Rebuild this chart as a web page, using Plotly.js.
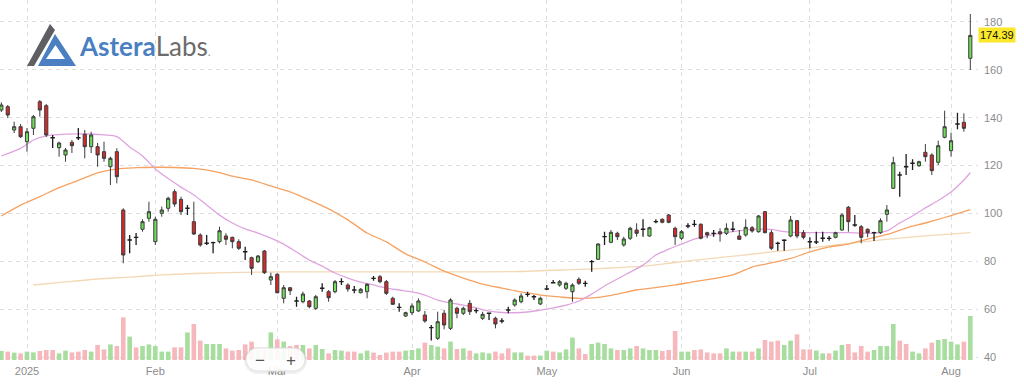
<!DOCTYPE html>
<html><head><meta charset="utf-8">
<script src="https://cdn.plot.ly/plotly-3.0.1.min.js"></script>
<style>html,body{margin:0;padding:0;background:#fff;}#chart{width:1024px;height:391px;}</style>
</head><body><div id="chart"></div>
<script>
const dates = [
"2024-12-26","2024-12-27","2024-12-30","2024-12-31",
"2025-01-02","2025-01-03","2025-01-06","2025-01-07","2025-01-08","2025-01-10","2025-01-13","2025-01-14","2025-01-15","2025-01-16","2025-01-17","2025-01-21","2025-01-22","2025-01-23","2025-01-24","2025-01-27","2025-01-28","2025-01-29","2025-01-30","2025-01-31",
"2025-02-03","2025-02-04","2025-02-05","2025-02-06","2025-02-07","2025-02-10","2025-02-11","2025-02-12","2025-02-13","2025-02-14","2025-02-18","2025-02-19","2025-02-20","2025-02-21","2025-02-24","2025-02-25","2025-02-26","2025-02-27","2025-02-28",
"2025-03-03","2025-03-04","2025-03-05","2025-03-06","2025-03-07","2025-03-10","2025-03-11","2025-03-12","2025-03-13","2025-03-14","2025-03-17","2025-03-18","2025-03-19","2025-03-20","2025-03-21","2025-03-24","2025-03-25","2025-03-26","2025-03-27","2025-03-28","2025-03-31",
"2025-04-01","2025-04-02","2025-04-03","2025-04-04","2025-04-07","2025-04-08","2025-04-09","2025-04-10","2025-04-11","2025-04-14","2025-04-15","2025-04-16","2025-04-17","2025-04-21","2025-04-22","2025-04-23","2025-04-24","2025-04-25","2025-04-28","2025-04-29","2025-04-30",
"2025-05-01","2025-05-02","2025-05-05","2025-05-06","2025-05-07","2025-05-08","2025-05-09","2025-05-12","2025-05-13","2025-05-14","2025-05-15","2025-05-16","2025-05-19","2025-05-20","2025-05-21","2025-05-22","2025-05-23","2025-05-27","2025-05-28","2025-05-29","2025-05-30",
"2025-06-02","2025-06-03","2025-06-04","2025-06-05","2025-06-06","2025-06-09","2025-06-10","2025-06-11","2025-06-12","2025-06-13","2025-06-16","2025-06-17","2025-06-18","2025-06-20","2025-06-23","2025-06-24","2025-06-25","2025-06-26","2025-06-27","2025-06-30",
"2025-07-01","2025-07-02","2025-07-03","2025-07-07","2025-07-08","2025-07-09","2025-07-10","2025-07-11","2025-07-14","2025-07-15","2025-07-16","2025-07-17","2025-07-18","2025-07-21","2025-07-22","2025-07-23","2025-07-24","2025-07-25","2025-07-28","2025-07-29","2025-07-30","2025-07-31",
"2025-08-01","2025-08-04","2025-08-05","2025-08-06"];

const open = [143.22,144.60,134.86,136.24,129.97,135.57,146.69,145.02,131.65,127.47,124.42,129.72,131.65,133.07,127.89,127.89,125.80,119.53,125.80,101.43,
88.90,90.02,93.37,97.96,88.19,100.05,102.14,109.08,105.90,102.14,96.55,90.99,87.52,87.77,88.19,90.57,90.02,88.19,84.01,81.50,
79.83,84.30,72.18,74.56,64.53,68.96,63.41,63.11,63.41,60.35,68.71,67.29,67.29,71.47,70.09,68.00,66.87,67.29,72.89,73.56,
71.47,64.53,60.77,57.13,58.52,59.23,57.55,52.24,47.82,58.27,51.99,60.35,58.27,62.44,59.35,56.17,58.27,56.17,55.05,59.65,
61.73,63.11,66.20,65.20,62.15,68.42,71.05,70.09,68.71,67.29,72.47,70.80,79.83,80.83,90.28,87.94,91.69,86.81,89.61,93.07,
93.37,90.57,96.55,97.55,99.34,93.78,89.61,94.75,95.46,95.46,91.95,91.69,92.36,91.69,93.37,90.57,90.99,94.03,92.36,100.72,
91.95,87.52,88.77,90.57,96.96,91.95,88.19,88.06,89.61,89.61,90.02,93.07,102.56,95.17,94.45,93.37,91.95,91.95,99.63,110.50,
116.06,119.53,120.95,119.95,125.55,124.42,121.37,131.81,126.21,137.37,138.08,164.83];
const high = [146.44,145.31,138.33,137.37,135.70,141.13,147.40,145.73,132.77,129.97,127.34,130.69,135.70,134.86,134.15,129.43,129.97,123.71,127.22,102.14,
90.99,91.82,97.55,104.90,98.63,102.81,106.99,110.08,106.99,103.52,104.90,91.69,90.99,88.19,94.45,91.69,90.28,89.19,86.10,81.92,
82.63,84.72,75.23,74.98,70.09,69.10,65.20,67.29,63.83,65.91,70.80,68.00,72.18,72.89,70.80,69.67,68.84,70.80,73.85,74.27,
72.18,65.20,62.44,58.93,62.44,64.53,59.23,53.37,58.93,59.65,64.53,61.02,61.02,63.83,60.35,58.93,58.52,56.84,56.17,61.02,
64.53,66.62,67.29,65.91,65.20,70.09,72.18,72.18,71.47,70.80,73.31,71.89,80.54,87.52,92.36,93.07,92.36,90.28,94.45,95.88,
97.55,94.45,97.55,97.96,99.76,94.45,93.07,95.88,97.25,95.88,92.36,93.07,93.78,95.88,96.55,93.07,97.55,94.75,99.34,101.01,
93.07,88.19,89.19,98.93,97.25,93.07,90.02,92.36,92.36,90.57,92.36,100.05,103.11,99.34,95.17,93.78,92.36,97.96,103.52,123.71,
117.44,124.84,122.62,122.04,129.01,125.13,130.39,142.93,133.74,142.10,141.84,183.34];
const low = [142.39,139.88,133.61,131.52,125.80,132.77,140.42,131.94,127.34,123.71,121.62,125.25,130.69,123.04,125.25,119.53,121.62,111.88,112.59,79.16,
83.34,86.81,92.36,96.55,86.81,98.63,100.72,102.81,99.34,99.34,90.99,86.10,86.81,83.34,87.52,86.81,85.43,84.72,80.54,74.27,
79.28,74.69,70.09,66.62,62.44,65.91,61.02,62.44,60.35,59.65,67.29,63.11,66.62,70.09,67.29,66.62,66.62,64.53,71.89,70.80,
65.91,61.73,58.93,56.72,57.55,58.93,54.33,46.90,47.11,51.57,51.29,56.17,57.55,57.55,58.27,55.46,55.46,51.99,54.08,58.27,
61.02,62.44,65.20,63.83,61.73,68.00,70.80,69.38,68.00,63.11,70.09,69.38,75.65,80.54,86.81,87.52,88.90,86.10,88.90,90.28,
90.28,90.28,95.88,95.88,95.88,86.81,88.90,93.78,94.45,89.19,89.61,90.28,88.19,90.99,92.36,88.90,90.28,91.95,91.95,91.69,
84.72,84.43,84.43,90.02,89.61,89.19,85.43,87.23,88.19,88.60,89.61,92.78,92.36,94.45,87.52,90.02,88.48,91.41,96.55,110.20,
106.99,116.06,118.15,119.40,121.62,116.06,120.24,131.40,123.71,135.16,134.15,159.94];
const close = [145.31,141.13,136.24,132.06,134.15,140.42,143.22,132.77,131.60,129.43,126.51,128.30,131.60,127.89,132.77,124.42,123.04,123.04,115.35,82.63,
88.95,89.97,96.55,100.72,97.55,101.43,106.32,103.94,100.72,102.19,91.41,86.81,87.57,87.82,92.78,89.19,88.19,85.43,83.96,77.07,
82.21,75.23,73.56,66.87,68.96,67.71,63.36,66.33,61.02,65.20,68.76,64.78,71.47,71.52,68.42,67.95,68.29,70.38,72.84,71.47,
66.62,62.02,60.72,58.52,61.32,63.41,55.05,52.29,54.75,53.37,63.83,58.27,60.35,58.93,59.40,57.84,58.32,53.79,55.00,59.60,
63.83,65.50,66.15,65.15,64.53,68.47,71.00,71.47,70.80,70.09,70.80,70.75,79.88,87.23,90.33,92.11,90.28,89.31,93.78,91.69,
93.42,94.03,96.60,96.30,96.30,90.28,92.36,94.80,95.41,89.61,90.99,91.64,91.41,93.78,93.42,89.19,94.20,92.66,98.93,91.95,
85.43,87.47,88.82,97.25,90.57,90.02,88.14,88.11,89.66,89.56,91.95,99.34,96.55,95.12,90.02,91.95,92.00,96.96,101.43,121.20,
116.01,119.48,121.00,121.62,123.71,117.86,128.30,136.24,130.39,137.42,135.57,174.39];
const volume = [4.5,4.2,3.7,3.3,4.2,3.8,4.5,5.0,5.0,3.3, 4.7,3.8,4.2,5.0,4.2,7.5,5.3,7.8,7.0,21.3,
11.7,6.3,7.0,7.8,7.0,4.2,4.2,6.3,6.3,13.8, 18.0,9.7,8.0,8.0,8.0,5.8,4.7,5.0,7.8,9.2,
5.3,5.0,13.8,10.3,9.2,7.0,7.5,7.5,5.8,7.5, 5.5,3.3,5.0,4.7,4.2,4.2,3.3,4.7,3.7,2.5,
3.7,4.2,4.2,4.7,5.0,5.8,8.7,7.5,6.7,5.8, 9.2,5.5,5.8,4.7,3.3,3.8,3.3,4.2,3.3,5.8,
3.8,3.8,2.2,2.2,2.2,4.7,4.2,3.8,5.3,11.2, 5.8,3.0,8.0,8.7,8.0,5.8,5.0,5.0,5.8,7.0,
5.8,5.0,5.0,4.5,5.0,14.5,4.2,4.2,5.0,5.3, 3.8,3.3,3.3,5.8,4.2,4.2,4.2,4.2,5.8,10.0,
9.2,9.7,7.5,9.7,12.8,5.3,5.3,4.7,3.3,3.3, 4.7,7.5,8.0,3.8,7.0,4.2,5.0,7.0,7.0,18.0,
9.7,8.0,4.2,3.3,5.8,8.7,10.0,10.5,9.2,7.8, 9.2,22.0];

const ma20Dates = ["2024-12-26","2024-12-31","2025-01-03","2025-01-07","2025-01-13","2025-01-16","2025-01-22","2025-01-24","2025-01-28","2025-01-30",
"2025-02-03","2025-02-05","2025-02-07","2025-02-11","2025-02-13","2025-02-18","2025-02-20","2025-02-24","2025-02-26","2025-02-28",
"2025-03-04","2025-03-06","2025-03-10","2025-03-12","2025-03-14","2025-03-18","2025-03-20","2025-03-24","2025-03-26","2025-03-28",
"2025-04-01","2025-04-03","2025-04-07","2025-04-09","2025-04-11","2025-04-15","2025-04-17","2025-04-22","2025-04-24","2025-04-28","2025-04-30",
"2025-05-02","2025-05-06","2025-05-08","2025-05-12","2025-05-14","2025-05-16","2025-05-20","2025-05-22","2025-05-27","2025-05-29",
"2025-06-02","2025-06-04","2025-06-06","2025-06-10","2025-06-12","2025-06-16","2025-06-18","2025-06-23","2025-06-25","2025-06-27",
"2025-07-01","2025-07-03","2025-07-08","2025-07-10","2025-07-14","2025-07-16","2025-07-18","2025-07-22","2025-07-24","2025-07-28","2025-07-30",
"2025-08-01","2025-08-05","2025-08-06"];
const ma20 = [124.0,127.2,130.7,132.4,133.1,133.2,132.8,132.1,127.8,124.0,
118.6,114.6,111.0,107.7,103.5,99.3,96.0,93.5,91.8,89.7,
87.2,83.9,80.5,78.0,75.1,73.0,71.3,70.1,68.8,68.0,
67.2,65.9,63.8,62.6,61.7,60.5,59.2,58.6,58.5,58.8,59.6,
60.5,61.7,63.4,66.3,69.7,72.6,75.5,78.4,82.6,85.1,
87.2,89.3,90.6,91.8,92.4,93.1,93.4,93.3,92.4,92.0,
92.0,92.0,92.0,92.0,91.8,91.7,92.7,96.0,98.9,102.3,105.4,
109.0,114.0,117.0];

const ma50Dates = ["2024-12-26","2024-12-31","2025-01-06","2025-01-10","2025-01-15","2025-01-21","2025-01-24","2025-01-29",
"2025-02-03","2025-02-06","2025-02-11","2025-02-14","2025-02-20","2025-02-25","2025-02-28",
"2025-03-05","2025-03-10","2025-03-13","2025-03-18","2025-03-21","2025-03-26","2025-03-31",
"2025-04-03","2025-04-08","2025-04-11","2025-04-16","2025-04-22","2025-04-25","2025-04-30",
"2025-05-05","2025-05-08","2025-05-13","2025-05-16","2025-05-21","2025-05-27","2025-05-30",
"2025-06-04","2025-06-09","2025-06-12","2025-06-17","2025-06-23","2025-06-26",
"2025-07-01","2025-07-07","2025-07-10","2025-07-15","2025-07-18","2025-07-23","2025-07-28","2025-07-31","2025-08-06"];
const ma50 = [98.9,103.5,107.0,110.8,113.8,116.9,118.6,119.1,
119.3,119.2,118.8,117.7,115.6,114.0,111.5,
109.0,105.6,101.9,97.3,91.8,88.1,83.1,
79.7,75.9,73.0,70.5,68.8,67.2,65.9,
65.1,64.5,64.9,66.3,68.0,69.0,70.1,
71.5,72.8,74.3,77.6,79.3,81.2,
83.9,86.0,87.2,89.3,91.2,93.9,96.0,98.3,101.6];

const ma200Dates = ["2025-01-03","2025-01-13","2025-01-21","2025-01-28","2025-02-04","2025-02-11","2025-02-26","2025-03-12","2025-03-26",
"2025-04-09","2025-04-24","2025-05-06","2025-05-15","2025-05-22","2025-05-30","2025-06-06","2025-06-13","2025-06-23","2025-06-30",
"2025-07-08","2025-07-15","2025-07-22","2025-07-29","2025-08-06"];
const ma200 = [70.1,71.4,72.6,73.4,74.3,74.9,75.5,75.6,75.6,
75.6,75.7,76.4,77.2,78.0,79.5,81.0,82.4,83.9,85.3,
86.8,88.3,89.7,90.8,92.0];

const monthTicks = ["2025-01-02","2025-02-03","2025-03-03","2025-04-01","2025-05-01","2025-06-02","2025-07-01","2025-08-01"];
const monthLabels = ["2025","Feb","Mar","Apr","May","Jun","Jul","Aug"];
const priceTicks = [40,60,80,100,120,140,160,180];
const lastPrice = "174.39";

// ---------- layout helpers ----------
const W = 1024, H = 391, ML = 0, MR = 46, MT = 0, MB = 31;
const PW = W - ML - MR, PH = H - MT - MB;
const PX = x => x / PW;
const PY = y => (PH - y) / PH;
const PRICE_RANGE = [38.75, 189.19];
const GRID = '#dedede';
const TICKFONT = {family: 'Liberation Sans, Arial, sans-serif', size: 11, color: '#8c8c8c'};

const upVol = '#a8dda0', downVol = '#f6b8bc';
const volColors = close.map((c, i) => (c >= open[i] ? upVol : downVol));

const isDoji = close.map((c, i) => Math.abs(c - open[i]) < 0.1);
const pick = (arr, want) => arr.filter((v, i) => isDoji[i] === want);

function poly(pts) {
  return 'M' + pts.map(p => PX(p[0]).toFixed(5) + ',' + PY(p[1]).toFixed(5)).join(' L') + ' Z';
}
function pill(x0, x1, y0, y1) {
  const r = (y1 - y0) / 2, k = 0.5523 * r, cy = (y0 + y1) / 2;
  const a = x0 + r, b = x1 - r;
  const P = (x, y) => PX(x).toFixed(5) + ',' + PY(y).toFixed(5);
  return 'M' + P(a, y0) + ' L' + P(b, y0) +
    ' C' + P(b + k, y0) + ' ' + P(x1, cy - k) + ' ' + P(x1, cy) +
    ' C' + P(x1, cy + k) + ' ' + P(b + k, y1) + ' ' + P(b, y1) +
    ' L' + P(a, y1) +
    ' C' + P(a - k, y1) + ' ' + P(x0, cy + k) + ' ' + P(x0, cy) +
    ' C' + P(x0, cy - k) + ' ' + P(a - k, y0) + ' ' + P(a, y0) + ' Z';
}

const traces = [
  {type: 'bar', x: dates, y: volume, yaxis: 'y', marker: {color: volColors, line: {width: 0}}, width: 0.72, hoverinfo: 'skip'},
  {type: 'scatter', mode: 'lines', x: ma200Dates, y: ma200, yaxis: 'y2', line: {color: '#f3d9b5', width: 1.3, shape: 'spline', smoothing: 0.8}, hoverinfo: 'skip'},
  {type: 'scatter', mode: 'lines', x: ma50Dates, y: ma50, yaxis: 'y2', line: {color: '#f5a262', width: 1.3, shape: 'spline', smoothing: 0.8}, hoverinfo: 'skip'},
  {type: 'scatter', mode: 'lines', x: ma20Dates, y: ma20, yaxis: 'y2', line: {color: '#dfa4df', width: 1.3, shape: 'spline', smoothing: 0.8}, hoverinfo: 'skip'},
  {type: 'candlestick', x: pick(dates, false), open: pick(open, false), high: pick(high, false), low: pick(low, false), close: pick(close, false),
   yaxis: 'y3', whiskerwidth: 0,
   increasing: {line: {color: '#3c3c3c', width: 1}, fillcolor: '#70dd5c'},
   decreasing: {line: {color: '#3c3c3c', width: 1}, fillcolor: '#d8282c'}, hoverinfo: 'skip'},
  {type: 'candlestick', x: pick(dates, true), open: pick(open, true), high: pick(high, true), low: pick(low, true), close: pick(close, true),
   yaxis: 'y3', whiskerwidth: 0,
   increasing: {line: {color: '#1e1e1e', width: 1.3}, fillcolor: '#1e1e1e'},
   decreasing: {line: {color: '#1e1e1e', width: 1.3}, fillcolor: '#1e1e1e'}, hoverinfo: 'skip'}
];

const layout = {
  width: W, height: H,
  margin: {l: ML, r: MR, t: MT, b: MB, pad: 0},
  paper_bgcolor: '#ffffff', plot_bgcolor: '#ffffff',
  showlegend: false, boxgap: 0.3,
  xaxis: {
    type: 'category', categoryorder: 'array', categoryarray: dates,
    range: [-0.208, 152.2], rangeslider: {visible: false},
    tickmode: 'array', tickvals: monthTicks, ticktext: monthLabels,
    showgrid: true, gridcolor: GRID, griddash: '4px,4px', gridwidth: 1,
    ticks: '', showline: false, zeroline: false, tickfont: TICKFONT,
    ticklabelstandoff: 3, fixedrange: true
  },
  yaxis: {range: [0, 180], visible: false, fixedrange: true},
  yaxis2: {
    overlaying: 'y', side: 'right', range: PRICE_RANGE,
    tickmode: 'array', tickvals: priceTicks,
    showgrid: true, gridcolor: GRID, griddash: '4px,4px', gridwidth: 1,
    ticks: '', showline: false, zeroline: false, tickfont: TICKFONT,
    ticklabelstandoff: 5, fixedrange: true
  },
  yaxis3: {overlaying: 'y', range: PRICE_RANGE, visible: false, fixedrange: true},
  shapes: [
    // logo mark
    {type: 'path', xref: 'paper', yref: 'paper', layer: 'above', path: poly([[27,66],[50,24],[55,30],[34,66]]), fillcolor: '#5e5f62', line: {width: 0}},
    {type: 'path', xref: 'paper', yref: 'paper', layer: 'above', path: poly([[55,34],[76,66],[38,66]]), fillcolor: '#4a7fc1', line: {width: 0}},
    {type: 'path', xref: 'paper', yref: 'paper', layer: 'above', path: poly([[55.5,45],[65,59],[46,59]]), fillcolor: '#ffffff', line: {width: 0}},
    // zoom pill
    {type: 'path', xref: 'paper', yref: 'paper', layer: 'above', path: pill(244, 307, 347, 374), fillcolor: 'rgba(0,0,0,0.06)', line: {width: 0}},
    {type: 'path', xref: 'paper', yref: 'paper', layer: 'above', path: pill(246, 305, 348, 371), fillcolor: 'rgba(255,255,255,0.9)', line: {color: '#e0e0e0', width: 1}}
  ],
  annotations: [
    {xref: 'paper', yref: 'paper', x: PX(77), y: PY(46), xanchor: 'left', yanchor: 'middle', showarrow: false,
     text: '<span style="color:#4a7fc1;font-weight:bold">Astera</span><span style="color:#6c6c6c">Labs</span><span style="color:#8d8d8d;font-size:12px">.</span>',
     font: {family: 'Lato, Open Sans, sans-serif', size: 26}},
    {xref: 'paper', yref: 'y2', x: 1, y: 174.39, xanchor: 'left', yanchor: 'middle', showarrow: false,
     text: lastPrice, bgcolor: '#fbe82a', borderpad: 1,
     font: {family: 'Liberation Sans, Arial, sans-serif', size: 11, color: '#111'}},
    {xref: 'paper', yref: 'paper', x: PX(260), y: PY(360), xanchor: 'center', yanchor: 'middle', showarrow: false,
     text: '\u2212', font: {family: 'Liberation Sans, Arial, sans-serif', size: 17, color: '#555'}},
    {xref: 'paper', yref: 'paper', x: PX(291), y: PY(360), xanchor: 'center', yanchor: 'middle', showarrow: false,
     text: '+', font: {family: 'Liberation Sans, Arial, sans-serif', size: 17, color: '#555'}}
  ]
};

Plotly.newPlot('chart', traces, layout, {staticPlot: true, displayModeBar: false});
</script>
</body></html>
